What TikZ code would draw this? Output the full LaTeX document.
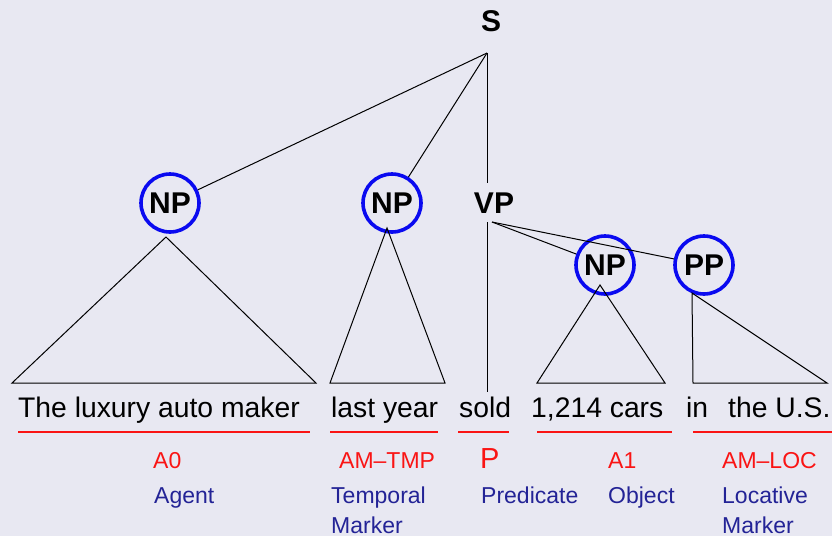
\documentclass[tikz,border=0pt]{standalone}
\usepackage{fontspec}
\setmainfont{Liberation Sans}
\definecolor{bgc}{RGB}{232,232,242}
\definecolor{circblue}{RGB}{10,10,240}
\definecolor{descblue}{RGB}{35,35,150}
\definecolor{rolered}{RGB}{250,20,20}
\tikzset{
  cat/.style={font=\fontsize{30}{30}\selectfont\bfseries, inner sep=0pt},
  circ/.style={cat, circle, draw=circblue, line width=3.6pt, minimum size=58pt},
  word/.style={font=\fontsize{28.3}{28.3}\selectfont, anchor=base west, inner sep=0pt},
  role/.style={font=\fontsize{23}{23}\selectfont, text=rolered, anchor=base west, inner sep=0pt},
  desc/.style={font=\fontsize{23}{30}\selectfont, text=descblue, anchor=base west, inner sep=0pt, align=left},
  tree/.style={line width=1pt, black},
  under/.style={line width=1.3pt, rolered}
}
\begin{document}
\begin{tikzpicture}[x=1pt,y=-1pt]
\fill[bgc] (0,0) rectangle (832,536);
\useasboundingbox (0,0) rectangle (832,536);
% category nodes
\node[cat] (S) at (491,21) {S};
\node[circ] (np1) at (170,203) {NP};
\node[circ] (np2) at (392,203) {NP};
\node[cat] (vp) at (494,203) {VP};
\node[circ] (np3) at (605,265) {NP};
\node[circ] (pp) at (704,265) {PP};
% tree coordinates
\coordinate (sb) at (487,53);
\coordinate (vt) at (487,183);
\coordinate (vb) at (487,222);
\coordinate (vr) at (492,222);
\coordinate (a1) at (166,237);
\coordinate (l1) at (12,383);
\coordinate (r1) at (316,383);
\coordinate (a2) at (387,228);
\coordinate (l2) at (330,383);
\coordinate (r2) at (445,383);
\coordinate (a3) at (600,285);
\coordinate (l3) at (537,383);
\coordinate (r3) at (665,383);
\coordinate (a4) at (692,293);
\coordinate (l4) at (693,383);
\coordinate (r4) at (827,383);
\coordinate (sold) at (487,392);
% tree lines
\draw[tree] (sb) -- (np1);
\draw[tree] (sb) -- (np2);
\draw[tree] (sb) -- (vt);
\draw[tree] (vb) -- (sold);
\draw[tree] (vr) -- (np3);
\draw[tree] (vr) -- (pp);
\draw[tree] (a1) -- (l1) -- (r1) -- cycle;
\draw[tree] (a2) -- (l2) -- (r2) -- cycle;
\draw[tree] (a3) -- (l3) -- (r3) -- cycle;
\draw[tree] (a4) -- (l4) -- (r4) -- cycle;
% words
\node[word] (w1) at (18,417) {The luxury auto maker};
\node[word] (w2) at (331,417) {last year};
\node[word] (w3) at (459,417) {sold};
\node[word] (w4) at (531,417) {1,214 cars};
\node[word] (w5) at (686,417) {in};
\node[word] (w6) at (728,417) {the U.S.};
% underlines
\draw[under] (18,432) -- (310,432);
\draw[under] (330,432) -- (438,432);
\draw[under] (458,432) -- (509,432);
\draw[under] (537,432) -- (672,432);
\draw[under] (693,432) -- (832,432);
% roles
\node[role] (r0) at (153,468) {A0};
\node[role] (rt) at (339,468) {AM–TMP};
\node[role, font=\fontsize{29}{29}\selectfont] (rp) at (480,468) {P};
\node[role] (ra) at (608,468) {A1};
\node[role] (rl) at (722,468) {AM–LOC};
% descriptions
\node[desc] (d0) at (154,503) {Agent};
\node[desc] (dt) at (331,533) {Temporal\\Marker};
\node[desc] (dp) at (481,503) {Predicate};
\node[desc] (da) at (608,503) {Object};
\node[desc] (dl) at (722,533) {Locative\\Marker};
\end{tikzpicture}
\end{document}
